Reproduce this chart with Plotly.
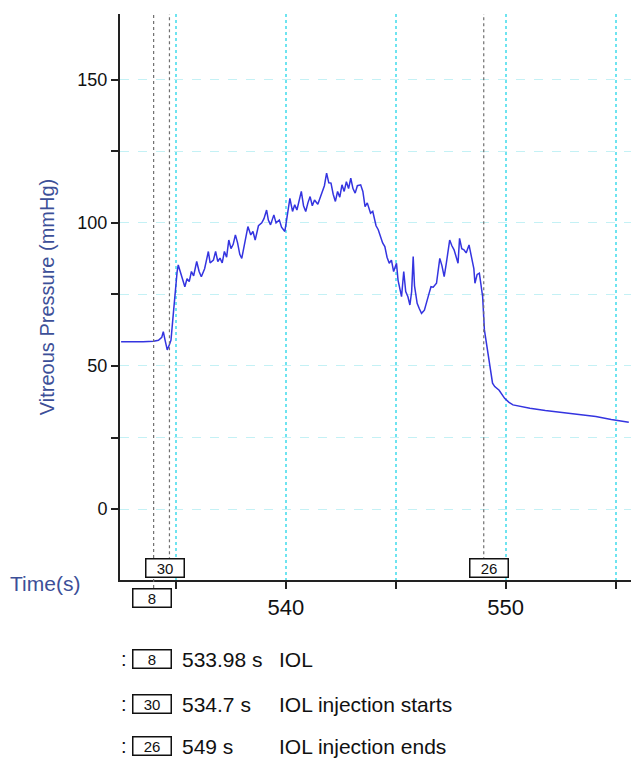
import plotly.graph_objects as go

# ---- data ----
time_s = [532.5, 533.0, 533.5, 533.98, 534.2, 534.35, 534.42, 534.5, 534.6, 534.7, 534.77, 534.85, 534.95, 535.05,
          535.1, 535.2, 535.3, 535.4, 535.5, 535.6, 535.7, 535.8, 535.94, 536.05, 536.15, 536.3, 536.47, 536.55,
          536.7, 536.8, 536.9, 537.0, 537.1, 537.2, 537.3, 537.4, 537.5, 537.6, 537.7, 537.8, 537.9, 537.99,
          538.1, 538.2, 538.27, 538.4, 538.5, 538.6, 538.75, 538.9, 539.0, 539.12, 539.2, 539.3, 539.4, 539.45,
          539.55, 539.7, 539.8, 539.95, 540.05, 540.18, 540.3, 540.4, 540.5, 540.6, 540.7, 540.8, 540.9, 541.0,
          541.1, 541.2, 541.3, 541.45, 541.6, 541.75, 541.85, 541.95, 542.05, 542.15, 542.25, 542.35, 542.45,
          542.55, 542.65, 542.75, 542.85, 542.95, 543.05, 543.15, 543.25, 543.4, 543.5, 543.6, 543.7, 543.85,
          543.95, 544.1, 544.2, 544.3, 544.4, 544.5, 544.6, 544.7, 544.8, 544.9, 545.03, 545.1, 545.2, 545.26,
          545.36, 545.45, 545.55, 545.64, 545.72, 545.79, 545.85, 545.97, 546.07, 546.17, 546.3, 546.4, 546.5,
          546.6, 546.7, 546.85, 546.93, 547.0, 547.1, 547.2, 547.3, 547.45, 547.55, 547.65, 547.75, 547.83,
          547.9, 548.0, 548.1, 548.2, 548.33, 548.45, 548.55, 548.6, 548.7, 548.8, 548.88, 548.95, 549.03,
          549.1, 549.18, 549.3, 549.4, 549.5, 549.7, 549.95, 550.15, 550.33, 550.7, 551.1, 551.8, 552.6,
          553.3, 554.1, 554.8, 555.6]
pressure_mmhg = [58.5, 58.4, 58.5, 58.6, 59.0, 60.0, 62.0, 59.0, 55.6, 57.5, 59.0, 66.0, 76.0, 83.0,
                 85.3, 82.5, 80.0, 77.7, 80.5, 79.5, 83.0, 81.5, 86.5, 83.0, 81.2, 84.0, 90.0, 86.0,
                 87.0, 90.0, 86.5, 87.7, 86.0, 90.0, 88.0, 94.0, 91.0, 92.5, 95.8, 93.0, 89.0, 87.6,
                 92.0, 96.0, 98.7, 95.8, 97.0, 94.0, 99.0, 100.0, 101.5, 104.5, 101.0, 99.3, 102.0, 102.8,
                 100.0, 101.0, 98.5, 97.0, 102.0, 108.6, 104.0, 106.3, 104.5, 108.0, 111.0, 106.0, 104.0, 107.0,
                 109.2, 106.0, 108.0, 106.5, 110.0, 113.0, 117.4, 114.0, 113.9, 110.0, 107.5, 111.0, 109.0,
                 113.3, 111.0, 114.4, 112.0, 115.6, 112.0, 110.4, 113.0, 113.3, 111.0, 105.7, 107.0, 103.4,
                 104.0, 99.0, 97.6, 95.0, 93.0, 91.7, 88.0, 85.9, 87.0, 83.0, 85.9, 80.0, 76.0, 74.2,
                 83.0, 76.0, 74.2, 71.3, 76.0, 88.2, 78.0, 71.9, 70.0, 68.4, 69.5, 71.9, 75.0,
                 77.7, 77.5, 78.9, 84.0, 87.6, 85.0, 81.2, 86.0, 94.0, 92.0, 90.6, 88.0, 85.9,
                 94.6, 91.0, 90.6, 89.5, 92.3, 87.0, 84.0, 78.9, 82.0, 82.4, 78.3, 74.2, 62.6,
                 59.0, 54.4, 48.0, 44.0, 42.8, 41.5, 38.7, 37.3, 36.4, 35.7, 35.2, 34.4, 33.7,
                 33.0, 32.3, 31.3, 30.3]

event_ids = ["8", "30", "26"]
event_times = [533.98, 534.7, 549.0]
event_time_labels = ["533.98 s", "534.7 s", "549 s"]
event_names = ["IOL", "IOL injection starts", "IOL injection ends"]

y_tick_vals = [0, 50, 100, 150]
x_tick_vals = [540, 550]

FONT = "Liberation Sans, Arial, Helvetica, sans-serif"
BLUE_LABEL = "#3c4f98"
VGRID = "#6fe4f0"
HGRID = "#c4f1f5"

fig = go.Figure()
fig.add_trace(go.Scatter(x=time_s, y=pressure_mmhg, mode="lines",
                         line=dict(color="#3434e0", width=1.5), showlegend=False))

# event marker lines
line_bottoms = [-0.014, 0.035, 0.035]
for t, yb in zip(event_times, line_bottoms):
    fig.add_shape(type="line", xref="x", yref="paper", x0=t, x1=t, y0=yb, y1=1,
                  line=dict(color="#707070", width=1.2, dash="dot"), layer="above")

# event boxes on the axis
box_cfg = [dict(yanchor="top", yshift=-8, xshift=-2),
           dict(yanchor="bottom", yshift=2, xshift=-4),
           dict(yanchor="bottom", yshift=2, xshift=5)]
for eid, t, cfg in zip(event_ids, event_times, box_cfg):
    fig.add_annotation(x=t, y=0, xref="x", yref="paper", text=eid, showarrow=False,
                       xanchor="center", yanchor=cfg["yanchor"], yshift=cfg["yshift"],
                       xshift=cfg["xshift"], width=35, height=15, borderpad=1,
                       bgcolor="white", bordercolor="#111", borderwidth=1.5,
                       font=dict(family=FONT, size=15, color="#111"))

# legend rows below
row_y = [-0.1396, -0.2191, -0.2933]
for eid, lab, name, ry in zip(event_ids, event_time_labels, event_names, row_y):
    fig.add_annotation(x=0.0, y=ry, xref="paper", yref="paper", text=":", showarrow=False,
                       xanchor="left", yanchor="middle", xshift=-1,
                       font=dict(family=FONT, size=20, color="#111"))
    fig.add_annotation(x=0.0626, y=ry, xref="paper", yref="paper", text=eid, showarrow=False,
                       xanchor="center", yanchor="middle", width=35, height=15, borderpad=1,
                       bgcolor="white", bordercolor="#111", borderwidth=1.5,
                       font=dict(family=FONT, size=15, color="#111"))
    fig.add_annotation(x=0.1174, y=ry, xref="paper", yref="paper", text=lab, showarrow=False,
                       xanchor="left", yanchor="middle",
                       font=dict(family=FONT, size=21, color="#111"))
    fig.add_annotation(x=0.307, y=ry, xref="paper", yref="paper", text=name, showarrow=False,
                       xanchor="left", yanchor="middle",
                       font=dict(family=FONT, size=21, color="#111"))

# "Time(s)" label
fig.add_annotation(x=0, y=0, xref="paper", yref="paper", text="Time(s)", showarrow=False,
                   xanchor="right", yanchor="middle", xshift=-38, yshift=-3,
                   font=dict(family=FONT, size=21, color=BLUE_LABEL))

fig.update_layout(
    width=631, height=758,
    margin=dict(l=120, r=0, t=14, b=178),
    paper_bgcolor="white", plot_bgcolor="white",
    showlegend=False,
    xaxis=dict(range=[532.45, 555.7], tickmode="array", tickvals=x_tick_vals,
               ticks="outside", ticklen=7, tickwidth=2, tickcolor="#222",
               showline=True, linecolor="#222", linewidth=2,
               showgrid=True, gridcolor=VGRID, gridwidth=1.5, griddash="dot",
               minor=dict(dtick=5, tick0=535, ticks="outside", ticklen=7, tickwidth=2, tickcolor="#222",
                          showgrid=True, gridcolor=VGRID, gridwidth=1.5, griddash="dot"),
               tickfont=dict(family=FONT, size=22, color="#111"), zeroline=False),
    yaxis=dict(range=[-24.8, 173], tickmode="array", tickvals=y_tick_vals,
               ticks="outside", ticklen=7, tickwidth=2, tickcolor="#222",
               showline=True, linecolor="#222", linewidth=2,
               showgrid=True, gridcolor=HGRID, gridwidth=1, griddash="dash",
               minor=dict(dtick=25, tick0=0, ticks="outside", ticklen=7, tickwidth=2, tickcolor="#222",
                          showgrid=True, gridcolor=HGRID, gridwidth=1, griddash="dash"),
               tickfont=dict(family=FONT, size=18, color="#111"), zeroline=False,
               title=dict(text="Vitreous Pressure (mmHg)", standoff=17,
                          font=dict(family=FONT, size=20, color=BLUE_LABEL))),
)

fig.write_html("out.html")
